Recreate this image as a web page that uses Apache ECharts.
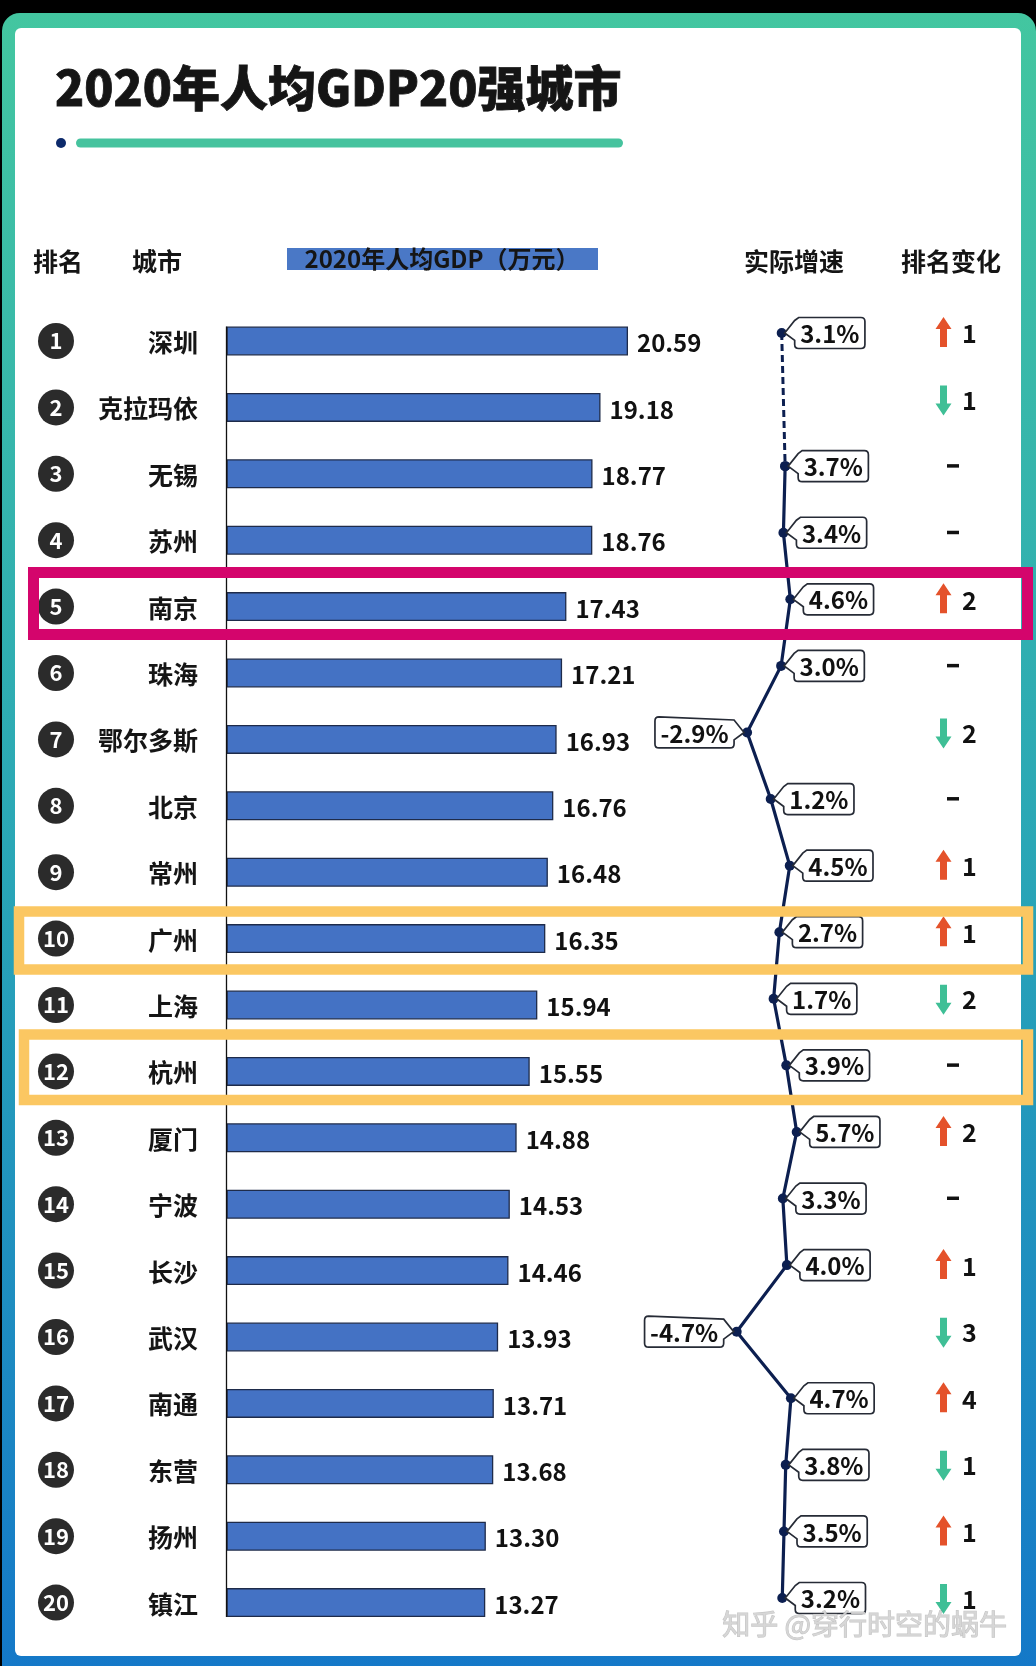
<!DOCTYPE html>
<html><head><meta charset="utf-8">
<script src="https://cdn.jsdelivr.net/npm/echarts@6/dist/echarts.min.js"></script>
<style>html,body{margin:0;padding:0;background:#000;}#main{width:1036px;height:1666px;}</style>
</head><body><div id="main"></div>
<script>
// ---------- data ----------
const cities = ['深圳','克拉玛依','无锡','苏州','南京','珠海','鄂尔多斯','北京','常州','广州','上海','杭州','厦门','宁波','长沙','武汉','南通','东营','扬州','镇江'];
const gdp = [20.59,19.18,18.77,18.76,17.43,17.21,16.93,16.76,16.48,16.35,15.94,15.55,14.88,14.53,14.46,13.93,13.71,13.68,13.30,13.27];
const growth = [3.1,null,3.7,3.4,4.6,3.0,-2.9,1.2,4.5,2.7,1.7,3.9,5.7,3.3,4.0,-4.7,4.7,3.8,3.5,3.2];
const rankChange = [1,-1,0,0,2,0,-2,0,1,1,-2,0,2,0,1,-3,4,-1,1,-1];
const ranks = cities.map((c,i)=>String(i+1));
const titleText = '2020年人均GDP20强城市';
const headers = {rank:'排名', city:'城市', gdp:'2020年人均GDP（万元）', growth:'实际增速', change:'排名变化'};
const watermark = '知乎 @穿行时空的蜗牛';

const FONT = '"Noto Sans CJK SC","Noto Sans",sans-serif';
const LABEL_FONT = 'bold 24px ' + FONT;
const mctx = document.createElement('canvas').getContext('2d');
function textW(s, font){ mctx.font = font; return mctx.measureText(s).width; }

// solid line: rows 3..20 ; dashed: row1 -> row3
const solidData = growth.map((v,i)=> (i>=2 && v!=null) ? [v,i] : [null,i]);
const dashData = growth.map((v,i)=> (i===0||i===2) ? [v,i] : [null,i]);
const calloutData = growth.map((v,i)=>[v,i]).filter(d=>d[0]!=null);
const changeData = rankChange.map((c,i)=>[0,i,c]);

function renderCallout(params, api){
  const v = api.value(0), idx = api.value(1);
  const p = api.coord([v, idx]);
  const txt = v.toFixed(1) + '%';
  const tw = textW(txt, LABEL_FONT);
  const w = tw + 11, h = 31, gap = 13, r = 4;
  const pos = v >= 0;
  const by = p[1] - h/2;
  let d, bx;
  if (pos) {
    bx = p[0] + gap;
    const tx = p[0] + 3;
    d = `M${bx+r},${by} L${bx+w-r},${by} Q${bx+w},${by} ${bx+w},${by+r} L${bx+w},${by+h-r} Q${bx+w},${by+h} ${bx+w-r},${by+h} L${bx+r},${by+h} Q${bx},${by+h} ${bx},${by+h-r} L${bx},${by+h*0.74} L${tx},${p[1]} L${bx},${by+3} Z`;
  } else {
    bx = p[0] - gap - w;
    const tx = p[0] - 3;
    const rx = bx + w;
    d = `M${bx+r},${by} L${rx},${by+3} L${tx},${p[1]} L${rx},${by+h*0.74} L${rx},${by+h-r} Q${rx},${by+h} ${rx-r},${by+h} L${bx+r},${by+h} Q${bx},${by+h} ${bx},${by+h-r} L${bx},${by+r} Q${bx},${by} ${bx+r},${by} Z`;
  }
  return {type:'group', children:[
    {type:'path', shape:{pathData:d}, style:{fill:'#fff', stroke:'#262b36', lineWidth:1.7}},
    {type:'text', style:{text:txt, x:bx+w/2, y:p[1]+1, align:'center', verticalAlign:'middle', font:LABEL_FONT, fill:'#111'}}
  ]};
}

function renderChange(params, api){
  const idx = api.value(1), c = api.value(2);
  const y = api.coord([0, idx])[1];
  const cs = params.coordSys;
  const ax = cs.x + 23.5, nx = cs.x + 42, dx = cs.x + 33;
  const children = [];
  if (c === 0) {
    children.push({type:'rect', shape:{x:dx-6, y:y-2, width:12, height:3.5}, style:{fill:'#111'}});
  } else {
    let d;
    if (c > 0) {
      d = `M${ax},${y-16} L${ax+8},${y-4} L${ax+3.5},${y-4} L${ax+3.5},${y+14} L${ax-3.5},${y+14} L${ax-3.5},${y-4} L${ax-8},${y-4} Z`;
    } else {
      d = `M${ax},${y+16} L${ax+8},${y+4} L${ax+3.5},${y+4} L${ax+3.5},${y-14} L${ax-3.5},${y-14} L${ax-3.5},${y+4} L${ax-8},${y+4} Z`;
    }
    children.push({type:'path', shape:{pathData:d}, style:{fill: c>0 ? '#e4522b' : '#3fbf96'}});
    children.push({type:'text', style:{text:String(Math.abs(c)), x:nx, y:y+1, align:'left', verticalAlign:'middle', font:'bold 25px '+FONT, fill:'#111'}});
  }
  return {type:'group', children};
}

const chart = echarts.init(document.getElementById('main'), null, {renderer:'canvas'});

const bg = [
  {type:'rect', z:-10, shape:{x:2, y:13, width:1034, height:1660, r:[18,18,0,0]},
    style:{fill:new echarts.graphic.LinearGradient(0,0,0,1,[{offset:0,color:'#43c6a0'},{offset:0.5,color:'#2aa7b6'},{offset:1,color:'#1478c8'}])}},
  {type:'rect', z:-9, shape:{x:15, y:28, width:1006, height:1628, r:6}, style:{fill:'#ffffff'}},
  {type:'text', z:5, style:{text:titleText, x:55, y:88, verticalAlign:'middle', font:'900 48px '+FONT, fill:'#151515', stroke:'#151515', lineWidth:0.8}},
  {type:'circle', z:5, shape:{cx:61, cy:143, r:5}, style:{fill:'#0d2a6b'}},
  {type:'rect', z:5, shape:{x:76, y:138.5, width:547, height:9, r:4.5}, style:{fill:'#46c39e'}},
  {type:'text', z:5, style:{text:headers.rank, x:58, y:261, align:'center', verticalAlign:'middle', font:'bold 25px '+FONT, fill:'#151515'}},
  {type:'text', z:5, style:{text:headers.city, x:157, y:261, align:'center', verticalAlign:'middle', font:'bold 25px '+FONT, fill:'#151515'}},
  {type:'rect', z:5, shape:{x:287, y:248, width:311, height:22}, style:{fill:'#4a78c6'}},
  {type:'text', z:6, style:{text:headers.gdp, x:442, y:259, align:'center', verticalAlign:'middle', font:'bold 24px '+FONT, fill:'#151515'}},
  {type:'text', z:5, style:{text:headers.growth, x:794, y:261, align:'center', verticalAlign:'middle', font:'bold 25px '+FONT, fill:'#151515'}},
  {type:'text', z:5, style:{text:headers.change, x:951, y:261, align:'center', verticalAlign:'middle', font:'bold 25px '+FONT, fill:'#151515'}},
  // highlight frames
  {type:'rect', z:50, shape:{x:33.5, y:572.5, width:994, height:62}, style:{fill:'none', stroke:'#d4056c', lineWidth:11}},
  {type:'rect', z:50, shape:{x:19, y:911.5, width:1009, height:58}, style:{fill:'none', stroke:'#fbc762', lineWidth:10.5}},
  {type:'rect', z:50, shape:{x:24, y:1034.5, width:1004, height:65.5}, style:{fill:'none', stroke:'#fbc762', lineWidth:10.5}},
  {type:'text', z:60, style:{text:watermark, x:1007, y:1624, align:'right', verticalAlign:'middle', font:'28px '+FONT, fill:'rgba(212,212,212,0.92)', stroke:'rgba(110,110,110,0.4)', lineWidth:1}}
];

const option = {
  animation:false,
  backgroundColor:'#000',
  grid:[
    {left:226.5, top:307.8, width:780, height:1328},
    {left:706.1, top:299.7, width:115.4, height:1331.6},
    {left:920, top:299.7, width:80, height:1331.6}
  ],
  xAxis:[
    {gridIndex:0, type:'value', min:0, max:40, show:false},
    {gridIndex:1, type:'value', min:-10, max:10, show:false},
    {gridIndex:2, type:'value', min:0, max:1, show:false}
  ],
  yAxis:[
    {gridIndex:0, type:'category', inverse:true, data:cities,
      axisLine:{show:false}, axisTick:{show:false},
      axisLabel:{margin:28.5, formatter:(v,i)=>`{c|${ranks[i]}}{n|${v}}`,
        rich:{
          c:{backgroundColor:'#2b2b2b', borderRadius:18, width:36, height:36, lineHeight:36, align:'center', color:'#fff', fontSize:22, fontWeight:'bold', fontFamily:FONT},
          n:{width:124, align:'right', fontSize:25, fontWeight:'bold', color:'#151515', fontFamily:FONT, padding:[3,0,0,0]}
        }}},
    {gridIndex:1, type:'category', inverse:true, data:ranks, show:false},
    {gridIndex:2, type:'category', inverse:true, data:ranks, show:false}
  ],
  series:[
    {type:'bar', xAxisIndex:0, yAxisIndex:0, data:gdp, barWidth:29,
      itemStyle:{color:'#4472c4', borderColor:'#1e2b4a', borderWidth:1.3},
      label:{show:true, position:'right', distance:9, offset:[0,2], formatter:p=>p.value.toFixed(2),
        fontSize:24, fontWeight:'bold', color:'#111', fontFamily:FONT}},
    {type:'line', xAxisIndex:1, yAxisIndex:1, data:dashData, connectNulls:true, z:3,
      lineStyle:{color:'#0c1f50', width:3, type:[7,4]}, symbol:'circle', symbolSize:10,
      itemStyle:{color:'#0c1f50'}},
    {type:'line', xAxisIndex:1, yAxisIndex:1, data:solidData, z:4,
      lineStyle:{color:'#0c1f50', width:3.2}, symbol:'circle', symbolSize:10,
      itemStyle:{color:'#0c1f50'}},
    {type:'custom', xAxisIndex:1, yAxisIndex:1, data:calloutData, renderItem:renderCallout, z:5,
      encode:{x:0, y:1}},
    {type:'custom', xAxisIndex:2, yAxisIndex:2, data:changeData, renderItem:renderChange, z:5,
      encode:{x:0, y:1}}
  ],
  graphic:{elements:bg}
};
chart.setOption(option);

// bar axis line from top of first bar to bottom of last bar, via the bar grid's scales
const pTop = chart.convertToPixel({gridIndex:0}, [0, 0]);
const pBot = chart.convertToPixel({gridIndex:0}, [0, cities.length-1]);
bg.push({type:'line', z:3, shape:{x1:pTop[0], y1:pTop[1]-14.5, x2:pBot[0], y2:pBot[1]+14.5}, style:{stroke:'#111', lineWidth:1.3}});
chart.setOption({graphic:{elements:bg}});
</script></body></html>
